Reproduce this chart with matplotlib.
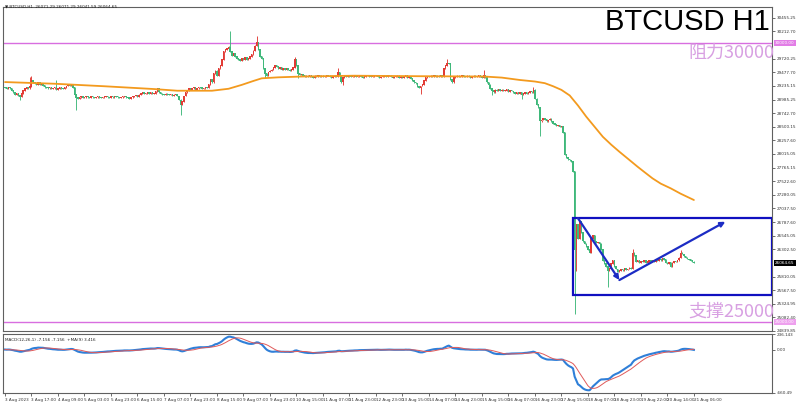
import numpy as np
import pandas as pd
import matplotlib
matplotlib.use("Agg")
import matplotlib.pyplot as plt
from matplotlib.patches import Rectangle, FancyArrowPatch
import matplotlib.transforms as mtrans

# ---------------- data (hourly closes, BTCUSD H1) ----------------
close_aug03_07 = [
    29200, 29180, 29210, 29190, 29150, 29120, 29080, 29100, 29060, 29040,
    29100, 29150, 29180, 29200, 29190, 29220, 29330, 29300, 29280, 29260,
    29300, 29250, 29270, 29240, 29210, 29200, 29190, 29210, 29180, 29190,
    29200, 29170, 29180, 29200, 29190, 29180, 29200, 29230, 29250, 29240,
    29260, 29200, 29080, 29020, 29000, 29030, 29040, 29020, 29030, 29040,
    29030, 29020, 29040, 29030, 29020, 29030, 29040, 29030, 29020, 29030,
    29040, 29050, 29030, 29020, 29040, 29030, 29050, 29040, 29030, 29020,
    29030, 29040, 29050, 29030, 29020, 29010, 29030, 29040, 29050, 29060,
    29040, 29070, 29100, 29110, 29090, 29100, 29120, 29100, 29110, 29090,
    29100, 29130, 29180, 29120, 29090, 29080, 29070, 29090, 29080, 29070,
]
close_aug07_11 = [
    29080, 29060, 29070, 29080, 29050, 28980, 28900, 28950, 29050, 29120,
    29150, 29180, 29160, 29190, 29200, 29170, 29190, 29210, 29200, 29180,
    29190, 29210, 29200, 29260, 29350, 29300, 29450, 29500, 29420, 29550,
    29600, 29700, 29850, 29880, 29900, 29930, 29850, 29780, 29820, 29760,
    29720, 29700, 29680, 29720, 29700, 29740, 29700, 29720, 29760, 29800,
    29860, 29950, 30010, 29880, 29760, 29720, 29550, 29450, 29420, 29480,
    29500, 29520, 29560, 29600, 29580, 29540, 29560, 29530, 29550, 29520,
    29540, 29520, 29500, 29530, 29560, 29700, 29600, 29450, 29430, 29440,
    29420, 29400, 29410, 29390, 29420, 29400, 29380, 29410, 29400, 29420,
    29400, 29410, 29390, 29400, 29420, 29410, 29400, 29380, 29400, 29410,
]
close_aug11_16 = [
    29400, 29480, 29420, 29300, 29380, 29400, 29390, 29410, 29400, 29390,
    29400, 29410, 29390, 29400, 29420, 29400, 29380, 29400, 29420, 29410,
    29400, 29390, 29400, 29410, 29420, 29400, 29380, 29390, 29400, 29410,
    29400, 29420, 29410, 29390, 29380, 29390, 29400, 29410, 29380, 29390,
    29380, 29400, 29420, 29380, 29400, 29360, 29330, 29300, 29280, 29220,
    29200, 29230, 29260, 29330, 29380, 29400, 29390, 29410, 29400, 29420,
    29400, 29410, 29390, 29420, 29400, 29550, 29600, 29640, 29630, 29350,
    29300, 29380, 29400, 29410, 29390, 29400, 29420, 29400, 29390, 29410,
    29400, 29380, 29400, 29410, 29390, 29400, 29420, 29400, 29380, 29420,
    29380, 29300, 29250, 29180, 29150, 29120, 29160, 29140, 29170, 29150,
]
close_aug16_21 = [
    29160, 29140, 29150, 29170, 29130, 29150, 29140, 29120, 29100, 29110,
    29090, 29110, 29080, 29100, 29120, 29090, 29110, 29130, 29120, 29160,
    29000, 28900, 28850, 28600, 28620, 28650, 28630, 28600, 28620, 28640,
    28600, 28560, 28540, 28520, 28530, 28500, 28510, 28400, 28000, 27950,
    27920, 27900, 27880, 27700, 26300, 26750, 26500, 26800, 26600, 26450,
    26400, 26350, 26300, 26250, 26500, 26550, 26450, 26420, 26430, 26400,
    26300, 26100, 26050, 26000, 25920, 25960, 26050, 26100, 26000, 25950,
    25900, 25920, 25950, 25930, 25960, 25940, 25950, 25970, 25960, 26240,
    26200, 26080, 26100, 26060, 26090, 26080, 26100, 26070, 26090, 26100,
    26080, 26100, 26090, 26120, 26100, 26130, 26110, 26140, 26120, 26060,
    26050, 26070, 26000, 26060, 26090, 26080, 26110, 26150, 26240, 26220,
    26180, 26150, 26130, 26120, 26100, 26080, 26064.65,
]
first_open = 29210
high_wicks = {15: 29390, 16: 29400, 31: 29330, 136: 30200, 152: 30110, 175: 29750,
              201: 29550, 267: 29700, 289: 29500, 319: 29200, 379: 26300, 408: 26280}
low_wicks = {9: 28980, 43: 28800, 106: 28710, 157: 29380, 177: 29380, 204: 29250,
             251: 29100, 294: 29080, 312: 29000, 323: 28350, 344: 25160, 345: 25930,
             364: 25630}

# orange moving average (bar index, value)
ma_bars = [0, 30, 60, 90, 104, 125, 135, 143, 150, 155, 165, 180, 211, 250, 289, 300,
           311, 320, 326, 331, 336, 341, 346, 351, 356, 361, 366, 371, 376, 382, 386,
           391, 396, 402, 408, 416]
ma_values = [29300, 29270, 29225, 29175, 29145, 29145, 29180, 29250, 29320, 29367,
             29385, 29400, 29414, 29405, 29400, 29380, 29337, 29310, 29280, 29225,
             29160, 29060, 28880, 28680, 28500, 28320, 28180, 28052, 27930, 27783,
             27690, 27575, 27480, 27396, 27300, 27187]

x_labels = ["3 Aug 2023", "3 Aug 17:00", "4 Aug 09:00", "5 Aug 03:00", "5 Aug 23:00",
            "6 Aug 15:00", "7 Aug 07:00", "7 Aug 23:00", "8 Aug 15:00", "9 Aug 07:00",
            "9 Aug 23:00", "10 Aug 15:00", "11 Aug 07:00", "11 Aug 23:00", "12 Aug 23:00",
            "13 Aug 15:00", "14 Aug 07:00", "14 Aug 23:00", "15 Aug 15:00", "16 Aug 07:00",
            "16 Aug 23:00", "17 Aug 15:00", "18 Aug 07:00", "18 Aug 23:00", "19 Aug 22:00",
            "20 Aug 14:00", "21 Aug 06:00"]
price_ticks = [30455.25, 30212.70, 29720.25, 29477.70, 29235.15, 28985.25, 28742.70,
               28500.15, 28257.60, 28015.05, 27765.15, 27522.60, 27280.05, 27037.50,
               26787.60, 26545.05, 26302.50, 25810.05, 25567.50, 25324.95, 25082.40,
               24839.85]
resistance = 30000.00
support = 25000.00
last_price = 26064.65
macd_range = [-660.49, 236.143]

# analyst drawing: box (price bottom/top, left bar) and arrow path
box_left_bar = 343
box_prices = [25484, 26860]
arrow_bars = [346, 371, 435]
arrow_prices = [26860, 25753, 26798]

# ---------------- build ----------------
closes = np.array(close_aug03_07 + close_aug07_11 + close_aug11_16 + close_aug16_21, float)
n = len(closes)
idx = np.arange(n)
opens = np.r_[first_open, closes[:-1]]
highs = np.maximum(opens, closes)
lows = np.minimum(opens, closes)
for b, v in high_wicks.items():
    highs[b] = max(highs[b], v)
for b, v in low_wicks.items():
    lows[b] = min(lows[b], v)

s = pd.Series(closes)
macd = s.ewm(span=12, adjust=False).mean() - s.ewm(span=26, adjust=False).mean()
macd_ma = macd.rolling(9, min_periods=1).mean()

W, H = 801, 407
fig = plt.figure(figsize=(W / 100, H / 100), dpi=100)
fig.patch.set_facecolor("white")

L, R = 3, 772
ax = fig.add_axes([L / W, 1 - 331 / H, (R - L) / W, (331 - 7) / H])
ax2 = fig.add_axes([L / W, 1 - 393 / H, (R - L) / W, (393 - 334) / H])

px_per_bar = 1.656
xmin = -(5 - L) / px_per_bar
xmax = xmin + (R - L) / px_per_bar
for a in (ax, ax2):
    a.set_xlim(xmin, xmax)
    for sp in a.spines.values():
        sp.set_color("#606060")
        sp.set_linewidth(0.8)

ax.set_ylim(24839.85, 30645)

up_col, dn_col = "#e23b35", "#3fb87a"
up = closes >= opens
cols = np.where(up, up_col, dn_col)
ax.vlines(idx, lows - 8, highs + 8, colors=cols, linewidth=0.65, zorder=2)
ax.bar(idx, np.abs(closes - opens) + 10, bottom=np.minimum(opens, closes) - 5,
       width=0.88, color=cols, linewidth=0, zorder=3)

ax.plot(ma_bars, ma_values, color="#f39a1e", lw=1.3, zorder=4, solid_capstyle="round")

lvl_col = "#d86ee0"
ax.axhline(resistance, color=lvl_col, lw=1.0, zorder=1)
ax.axhline(support, color=lvl_col, lw=1.0, zorder=1)

box_col = "#1010c0"
ax.add_patch(Rectangle((box_left_bar, box_prices[0]), xmax - box_left_bar - 0.3,
                       box_prices[1] - box_prices[0], fill=False, edgecolor=box_col,
                       lw=1.6, zorder=5))
for i in range(len(arrow_bars) - 1):
    ar = FancyArrowPatch((arrow_bars[i], arrow_prices[i]), (arrow_bars[i + 1], arrow_prices[i + 1]),
                         arrowstyle="-|>", mutation_scale=7, color="#1c2cc4", lw=1.6,
                         shrinkA=0, shrinkB=0, zorder=6)
    ax.add_patch(ar)

# right price scale
ax.yaxis.tick_right()
ax.set_yticks(price_ticks)
ax.set_yticklabels([f"{v:.2f}" for v in price_ticks])
ax.tick_params(axis="y", labelsize=3.0, length=2, pad=1.5, colors="#333333", width=0.5)
ax.set_xticks([])
bt = mtrans.blended_transform_factory(ax.transAxes, ax.transData)
ax.text(1.004, resistance, f"{resistance:.2f}", transform=bt, fontsize=3.0, color="white",
        va="center", ha="left", bbox=dict(boxstyle="square,pad=0.25", fc="#e27de6", ec="none"))
ax.text(1.004, support, f"{support:.2f}", transform=bt, fontsize=3.0, color="white",
        va="center", ha="left", bbox=dict(boxstyle="square,pad=0.25", fc="#eea0ee", ec="none"))
ax.text(1.004, last_price, f"{last_price:.2f}", transform=bt, fontsize=3.0, color="white",
        va="center", ha="left", bbox=dict(boxstyle="square,pad=0.25", fc="black", ec="none"))

# MACD panel
ax2.set_ylim(*macd_range)
ax2.plot(idx, macd_ma, color="#e05a5a", lw=0.7, zorder=3)
ax2.plot(idx, macd, color="#2f7fd8", lw=1.5, zorder=2)
ax2.yaxis.tick_right()
ax2.set_yticks([macd_range[1], 0.0, macd_range[0]])
ax2.set_yticklabels([f"{macd_range[1]:.3f}", "0.00", f"{macd_range[0]:.2f}"])
ax2.tick_params(axis="y", labelsize=3.0, length=2, pad=1.5, colors="#333333", width=0.5)
ticks = np.arange(len(x_labels)) * 16
ax2.set_xticks(ticks)
ax2.set_xticklabels(x_labels, ha="left")
ax2.tick_params(axis="x", labelsize=3.0, length=2, pad=1.5, colors="#333333", width=0.5)
ax2.text(0.003, 0.93, "MACD(12,26,1) -7.156 -7.156  +MA(9) 3.416", transform=ax2.transAxes,
         fontsize=3.0, va="top", ha="left", color="#222222")

# header texts
fig.text(5 / W, 1 - 6 / H, "\u25bc BTCUSD,H1  26071.29 26071.29 26041.59 26064.65",
         fontsize=3.0, va="center", ha="left", color="#222222")
fig.text(770 / W, 1 - 8 / H, "BTCUSD H1", fontsize=21, family="Liberation Sans",
         va="top", ha="right", color="black")
cjk = ["Noto Sans CJK SC", "DejaVu Sans"]
fig.text(774 / W, 1 - 53 / H, "阻力30000", fontsize=13, family=cjk, va="center",
         ha="right", color="#d8a0e2")
fig.text(774 / W, 1 - 312 / H, "支撑25000", fontsize=13, family=cjk, va="center",
         ha="right", color="#d8a0e2")

fig.savefig("out.png", dpi=100, facecolor="white")
